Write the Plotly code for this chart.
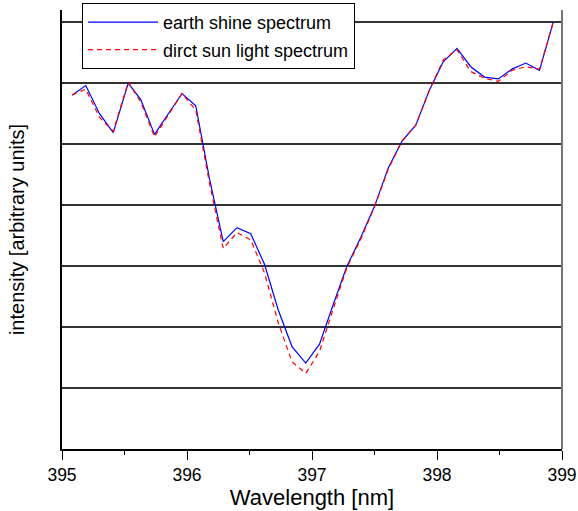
import plotly.graph_objects as go

wavelength = [395.08, 395.19, 395.30, 395.41, 395.53, 395.63, 395.74, 395.85, 395.96, 396.07,
              396.18, 396.29, 396.40, 396.51, 396.62, 396.73, 396.84, 396.95, 397.06, 397.17,
              397.28, 397.39, 397.50, 397.61, 397.72, 397.83, 397.94, 398.05, 398.16, 398.27,
              398.38, 398.49, 398.60, 398.71, 398.82, 398.93]

earth_shine = [5.80, 5.96, 5.50, 5.19, 6.00, 5.73, 5.16, 5.49, 5.83, 5.63,
               4.43, 3.40, 3.63, 3.53, 3.03, 2.28, 1.68, 1.41, 1.72, 2.37,
               3.00, 3.47, 3.98, 4.61, 5.05, 5.31, 5.89, 6.35, 6.57, 6.27,
               6.10, 6.07, 6.23, 6.33, 6.21, 7.00]

direct_sun = [5.81, 5.90, 5.44, 5.21, 6.02, 5.69, 5.12, 5.48, 5.83, 5.56,
              4.36, 3.29, 3.55, 3.43, 2.89, 2.07, 1.43, 1.24, 1.60, 2.30,
              2.98, 3.44, 3.97, 4.59, 5.05, 5.31, 5.89, 6.38, 6.55, 6.19,
              6.08, 6.03, 6.21, 6.27, 6.23, 7.00]

x_ticks = [395, 396, 397, 398, 399]

fig = go.Figure()
fig.add_trace(go.Scatter(x=wavelength, y=earth_shine, mode="lines",
                         name="earth shine spectrum", legendgroup="a",
                         line=dict(color="#0000ff", width=1.2)))
fig.add_trace(go.Scatter(x=wavelength, y=direct_sun, mode="lines",
                         name="dirct sun light spectrum", legendgroup="b",
                         line=dict(color="#ff0000", width=1.2, dash="5px,4px")))

fig.update_layout(
    width=578, height=511,
    margin=dict(l=62, r=16, t=10, b=62, autoexpand=False),
    paper_bgcolor="white", plot_bgcolor="white",
    font=dict(family="Liberation Sans, Arial, sans-serif", color="black"),
    showlegend=True,
    legend=dict(x=0.04, y=1.016, xanchor="left", yanchor="top",
                bgcolor="white", bordercolor="black", borderwidth=1,
                font=dict(size=18), tracegroupgap=1, itemwidth=70),
    xaxis=dict(range=[395, 399], tickvals=x_ticks, ticktext=[str(v) for v in x_ticks],
               ticks="outside", ticklen=9, tickwidth=1, tickcolor="black",
               minor=dict(dtick=0.5, ticks="outside", ticklen=4, tickcolor="black"),
               showline=True, linecolor="black", linewidth=1.5,
               showgrid=False, zeroline=False, automargin=False,
               tickfont=dict(size=17.5),
               title=dict(text="Wavelength [nm]", font=dict(size=22), standoff=2)),
    yaxis=dict(range=[0, 7.2], dtick=1, showticklabels=False, ticks="",
               showgrid=True, gridcolor="#333333", gridwidth=1.5,
               showline=True, linecolor="black", linewidth=1.5,
               zeroline=False, automargin=False,
               title=dict(text="intensity [arbitrary units]", font=dict(size=20), standoff=30)),
    shapes=[dict(type="line", xref="paper", yref="paper", x0=1, x1=1, y0=0, y1=1,
                 line=dict(color="#777777", width=2))],
)

fig.write_html("out.html", config={"displayModeBar": False},
               post_script="document.body.style.margin='0';document.body.style.overflow='hidden';")
